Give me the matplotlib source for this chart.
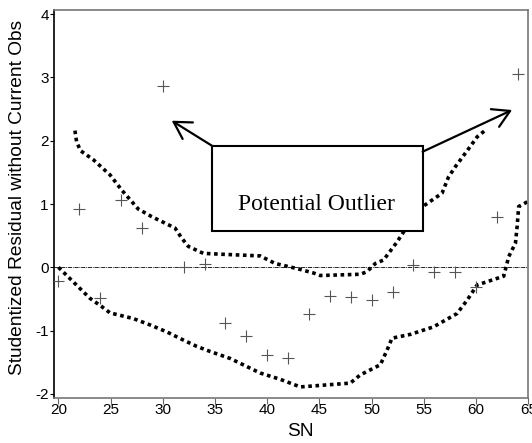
import matplotlib
matplotlib.use("Agg")
import matplotlib.pyplot as plt
from matplotlib.patches import Rectangle

# studentized residuals (without current obs) vs SN
sn = [20, 22, 24, 26, 28, 30, 32, 34, 36, 38, 40, 42,
      44, 46, 48, 50, 52, 54, 56, 58, 60, 62, 64]
resid = [-0.22, 0.92, -0.48, 1.06, 0.62, 2.87, 0.0, 0.06, -0.88, -1.08, -1.39, -1.44,
         -0.73, -0.46, -0.47, -0.51, -0.39, 0.03, -0.07, -0.08, -0.31, 0.79, 3.06]

# upper dotted band
up_x = [21.58, 21.74, 22.13, 23.34, 24.94, 26.06, 27.65, 28.94, 31.17, 31.81, 32.44,
        33.88, 35.8, 39.32, 40.76, 42.84, 44.43, 45.07, 48.91, 49.55, 50.35, 51.14,
        52.43, 53.06, 54.98, 56.74, 57.37, 58.02, 59.45, 60.1, 60.99]
up_y = [2.16, 1.98, 1.84, 1.70, 1.46, 1.22, 0.92, 0.80, 0.62, 0.46, 0.33,
        0.22, 0.205, 0.18, 0.06, -0.02, -0.09, -0.13, -0.11, -0.07, 0.06, 0.115,
        0.40, 0.56, 0.97, 1.17, 1.43, 1.59, 1.91, 2.06, 2.18]

# lower dotted band
lo_x = [20.0, 21.42, 23.02, 24.14, 24.94, 27.17, 28.77, 30.37, 31.97, 33.25, 34.53,
        36.44, 39.32, 41.24, 43.16, 47.95, 48.91, 50.83, 51.47, 51.95, 53.7, 55.94,
        58.18, 59.14, 60.1, 62.65, 63.13, 63.77, 63.93, 64.08, 65.2]
lo_y = [0.0, -0.23, -0.49, -0.62, -0.72, -0.81, -0.91, -1.02, -1.15, -1.25, -1.33,
        -1.44, -1.67, -1.77, -1.89, -1.83, -1.70, -1.54, -1.31, -1.12, -1.06, -0.94,
        -0.73, -0.52, -0.28, -0.14, 0.17, 0.38, 0.64, 0.96, 1.06]

xticks = [20, 25, 30, 35, 40, 45, 50, 55, 60, 65]
yticks = [-2, -1, 0, 1, 2, 3, 4]

fig = plt.figure(figsize=(5.32, 4.43), dpi=100)
ax = fig.add_axes([0.102, 0.1023, 0.891, 0.8751])

ax.axhline(0, color="black", lw=0.6, ls=(0, (5, 1, 1, 1)), zorder=1)
ax.plot(up_x, up_y, color="black", lw=2.6, ls=(0, (1, 1)), zorder=2, clip_on=False)
ax.plot(lo_x, lo_y, color="black", lw=2.6, ls=(0, (1, 1)), zorder=2, clip_on=False)
ax.plot(sn, resid, ls="none", marker="+", ms=8, mew=0.8, color="#555555", zorder=3)

# annotation box + arrows
box = Rectangle((34.75, 0.573), 54.88 - 34.75, 1.916 - 0.573, facecolor="white",
                edgecolor="black", lw=1.5, zorder=5)
ax.add_patch(box)
ax.text(44.7, 0.905, "Potential Outlier", ha="center", va="baseline",
        fontsize=17, family="Liberation Serif", zorder=6)
arw = dict(arrowstyle="->,head_length=0.6,head_width=0.35", lw=1.6, color="black",
           mutation_scale=20, shrinkA=0, shrinkB=0)
ax.annotate("", xy=(30.85, 2.316), xytext=(34.75, 1.916), arrowprops=arw, zorder=6)
ax.annotate("", xy=(63.45, 2.485), xytext=(54.88, 1.826), arrowprops=arw, zorder=6)

ax.set_xlim(19.6, 65.0)
ax.set_ylim(-2.06, 4.065)
ax.set_xticks(xticks)
ax.set_yticks(yticks)
ax.set_xticklabels([str(t) for t in xticks], family="Liberation Sans", fontsize=11)
ax.set_yticklabels([str(t) for t in yticks], family="Liberation Sans", fontsize=11)
ax.tick_params(axis="y", direction="out", length=3, width=0.8, pad=1)
ax.tick_params(axis="x", direction="out", length=4, width=0.8, pad=0, color="#666666")

ax.spines["left"].set_color("black")
ax.spines["left"].set_linewidth(1.2)
for s in ["top", "right", "bottom"]:
    ax.spines[s].set_color("#777777")
    ax.spines[s].set_linewidth(1.2)

fig.text(18 / 532, 0.555, "Studentized Residual without Current Obs", rotation=90,
         ha="center", va="center", family="Liberation Sans", fontsize=13.8)
fig.text(300 / 532, 0.0158, "SN", ha="center", va="baseline",
         family="Liberation Sans", fontsize=13.8)

fig.savefig("out.png", dpi=100)
